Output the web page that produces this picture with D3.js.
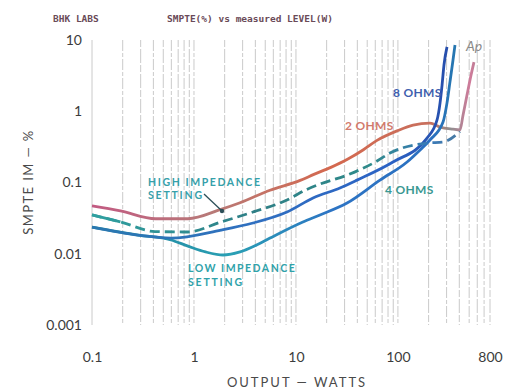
<!DOCTYPE html>
<html><head><meta charset="utf-8">
<script src="https://cdn.jsdelivr.net/npm/d3@7"></script>
<style>body{margin:0;background:#fff}svg{display:block}</style>
</head><body>
<script>
// ---- data ----
const xTickValues = [0.1, 1, 10, 100, 800];
const xTickLabels = ["0.1", "1", "10", "100", "800"];
const yTickValues = [10, 1, 0.1, 0.01, 0.001];
const yTickLabels = ["10", "1", "0.1", "0.01", "0.001"];

// 2 ohms (watts, % IM)
const ohms2 = [[0.1,0.047],[0.19,0.040],[0.42,0.031],[0.87,0.031],[1.84,0.042],[2.83,0.052],[5.57,0.078],[11,0.107],[15,0.13],[22,0.163],[31.7,0.21],[45.5,0.286],[62.4,0.39],[98,0.53],[141,0.64],[206,0.68],[259,0.60],[347,0.56],[406,0.546],[435,0.88],[476,1.69],[521,3.2],[557,4.9]];
// high impedance setting (dashed)
const highImp = [[0.1,0.035],[0.19,0.028],[0.415,0.0205],[0.87,0.0202],[1.84,0.0279],[3.79,0.0385],[8.17,0.0568],[12.8,0.08],[17.2,0.095],[31.7,0.127],[62.4,0.2],[83.6,0.259],[193,0.358],[277,0.37],[406,0.52]];
// mid blue curve
const blueMid = [[0.1,0.0237],[0.283,0.0183],[0.596,0.0166],[1.84,0.0215],[3.79,0.027],[8.17,0.0385],[14.7,0.0606],[27,0.0838],[39.7,0.108],[89.5,0.194],[193,0.42],[242,0.754],[259,1.31],[271,2.33],[283,4.46],[303,8.0]];
// low impedance setting
const lowImp = [[0.1,0.0237],[0.283,0.0183],[0.596,0.0156],[0.874,0.0128],[1.3,0.0106],[1.93,0.0096],[2.83,0.0106],[4,0.013],[5.57,0.0166],[11.7,0.0279],[17.2,0.035],[31.7,0.0515],[66.7,0.108],[123,0.194],[165,0.286],[206,0.395],[277,0.706],[303,1.31],[324,2.58],[347,5.24],[363,8.5]];

const W = 513, H = 390;
const svg = d3.select("body").append("svg").attr("width", W).attr("height", H);
const x = d3.scaleLog().domain([0.1, 800]).range([92, 490]);
const y = d3.scaleLog().domain([0.001, 10]).range([325, 40]);

// gradients
const defs = svg.append("defs");
function grad(id, stops) {
  const g = defs.append("linearGradient").attr("id", id).attr("gradientUnits", "userSpaceOnUse")
    .attr("x1", 92).attr("x2", 490).attr("y1", 0).attr("y2", 0);
  stops.forEach(s => g.append("stop").attr("offset", s[0]).attr("stop-color", s[1]));
}
grad("gRed", [[0, "#c25a82"], [0.3, "#b87a78"], [0.6, "#d4684e"], [0.85, "#c8705e"], [0.9, "#8f8f8f"], [0.95, "#d07a9a"], [1, "#8a8a8a"]]);
grad("gDash", [[0, "#2fa0a0"], [0.4, "#2f7f86"], [0.7, "#2f8a8a"], [0.85, "#3a7ab8"], [1, "#5a7a8a"]]);
grad("gBlue", [[0, "#2a78b0"], [0.4, "#3070c0"], [0.75, "#2b62c4"], [1, "#233f9a"]]);
grad("gLow", [[0, "#1f7f9a"], [0.35, "#2aa0b4"], [0.6, "#2d74c4"], [0.85, "#2a70c0"], [1, "#20809a"]]);

// grid lines
const gridVals = [];
[0.1, 1, 10, 100].forEach(d => { for (let k = 1; k <= 9; k++) { const v = k * d; if (v <= 800.0001) gridVals.push(+v.toPrecision(3)); } });
gridVals.push(800);
svg.append("g").selectAll("line").data(Array.from(new Set(gridVals))).join("line")
  .attr("x1", d => x(d)).attr("x2", d => x(d)).attr("y1", y(10)).attr("y2", y(0.001))
  .attr("stroke", "#c4c4c4").attr("stroke-width", 0.9)
  .attr("stroke-dasharray", (d, i) => d === 0.1 ? null : (i % 2 ? "11,2,4,2" : "7,2,14,2"));

// axes
const ax = svg.append("g").attr("transform", `translate(0,${y(0.001) + 24})`)
  .call(d3.axisBottom(x).tickValues(xTickValues).tickFormat((d, i) => xTickLabels[i]).tickSize(0));
ax.select(".domain").remove();
ax.selectAll("text").attr("font-family", "Lato, sans-serif").attr("font-size", 14).attr("fill", "#3c3c3c");
const ay = svg.append("g").attr("transform", `translate(84,0)`)
  .call(d3.axisLeft(y).tickValues(yTickValues).tickFormat((d, i) => yTickLabels[i]).tickSize(0).tickPadding(2));
ay.select(".domain").remove();
ay.selectAll("text").attr("font-family", "Lato, sans-serif").attr("font-size", 14).attr("fill", "#3c3c3c");

// curves
const line = d3.line().x(d => x(d[0])).y(d => y(d[1])).curve(d3.curveMonotoneX);
svg.append("path").datum(ohms2).attr("d", line).attr("fill", "none").attr("stroke", "url(#gRed)").attr("stroke-width", 2.8);
svg.append("path").datum(lowImp).attr("d", line).attr("fill", "none").attr("stroke", "url(#gLow)").attr("stroke-width", 2.8);
svg.append("path").datum(blueMid).attr("d", line).attr("fill", "none").attr("stroke", "url(#gBlue)").attr("stroke-width", 2.8);
svg.append("path").datum(highImp).attr("d", line).attr("fill", "none").attr("stroke", "url(#gDash)").attr("stroke-width", 2.8)
  .attr("stroke-dasharray", "10,5");
svg.append("path").datum(highImp.filter(d => d[0] <= 0.2)).attr("d", line).attr("fill", "none").attr("stroke", "url(#gDash)").attr("stroke-width", 2.8);

// annotations
function txt(t, px, py, color, size, ls, weight) {
  svg.append("text").attr("x", px).attr("y", py).text(t)
    .attr("font-family", "Lato, sans-serif").attr("font-size", size).attr("fill", color)
    .attr("letter-spacing", ls || 0).attr("font-weight", weight || "bold");
}
txt("8 OHMS", 393, 97, "#3f5fae", 12, 0.3);
txt("2 OHMS", 345, 130, "#d27a6c", 12, 0.3);
txt("4 OHMS", 385, 194, "#3a9892", 12, 0.3);
txt("HIGH IMPEDANCE", 148, 186, "#36a0aa", 10.5, 1.6);
txt("SETTING", 148, 199, "#36a0aa", 10.5, 1.8);
txt("LOW IMPEDANCE", 188, 272, "#2fa2aa", 10.5, 1.5);
txt("SETTING", 188, 286, "#2fa2aa", 10.5, 1.8);
svg.append("line").attr("x1", 204).attr("y1", 194).attr("x2", 222).attr("y2", 211)
  .attr("stroke", "#2c4f58").attr("stroke-width", 1.3);
svg.append("circle").attr("cx", 222).attr("cy", 211).attr("r", 2.2).attr("fill", "#2c4f58");

// titles
svg.append("text").attr("transform", "translate(33,182) rotate(-90)").attr("text-anchor", "middle")
  .attr("font-family", "Lato, sans-serif").attr("font-size", 13).attr("fill", "#4a4a4a").attr("letter-spacing", 1.4)
  .text("SMPTE IM — %");
svg.append("text").attr("x", 297).attr("y", 387).attr("text-anchor", "middle")
  .attr("font-family", "Lato, sans-serif").attr("font-size", 13).attr("fill", "#4a4a4a").attr("letter-spacing", 2)
  .text("OUTPUT — WATTS");
svg.append("text").attr("x", 53).attr("y", 22).attr("font-family", "'DejaVu Sans Mono', monospace").attr("font-weight", "bold")
  .attr("font-size", 9.5).attr("fill", "#6a4a58").text("BHK LABS");
svg.append("text").attr("x", 167).attr("y", 22).attr("font-family", "'DejaVu Sans Mono', monospace").attr("font-weight", "bold")
  .attr("font-size", 9.5).attr("fill", "#6a4a58").text("SMPTE(%) vs measured LEVEL(W)");
svg.append("text").attr("x", 466).attr("y", 51).attr("font-family", "Lato, sans-serif").attr("font-style", "italic")
  .attr("font-size", 14).attr("fill", "#8a8a8a").text("Ap");
</script>
</body></html>
